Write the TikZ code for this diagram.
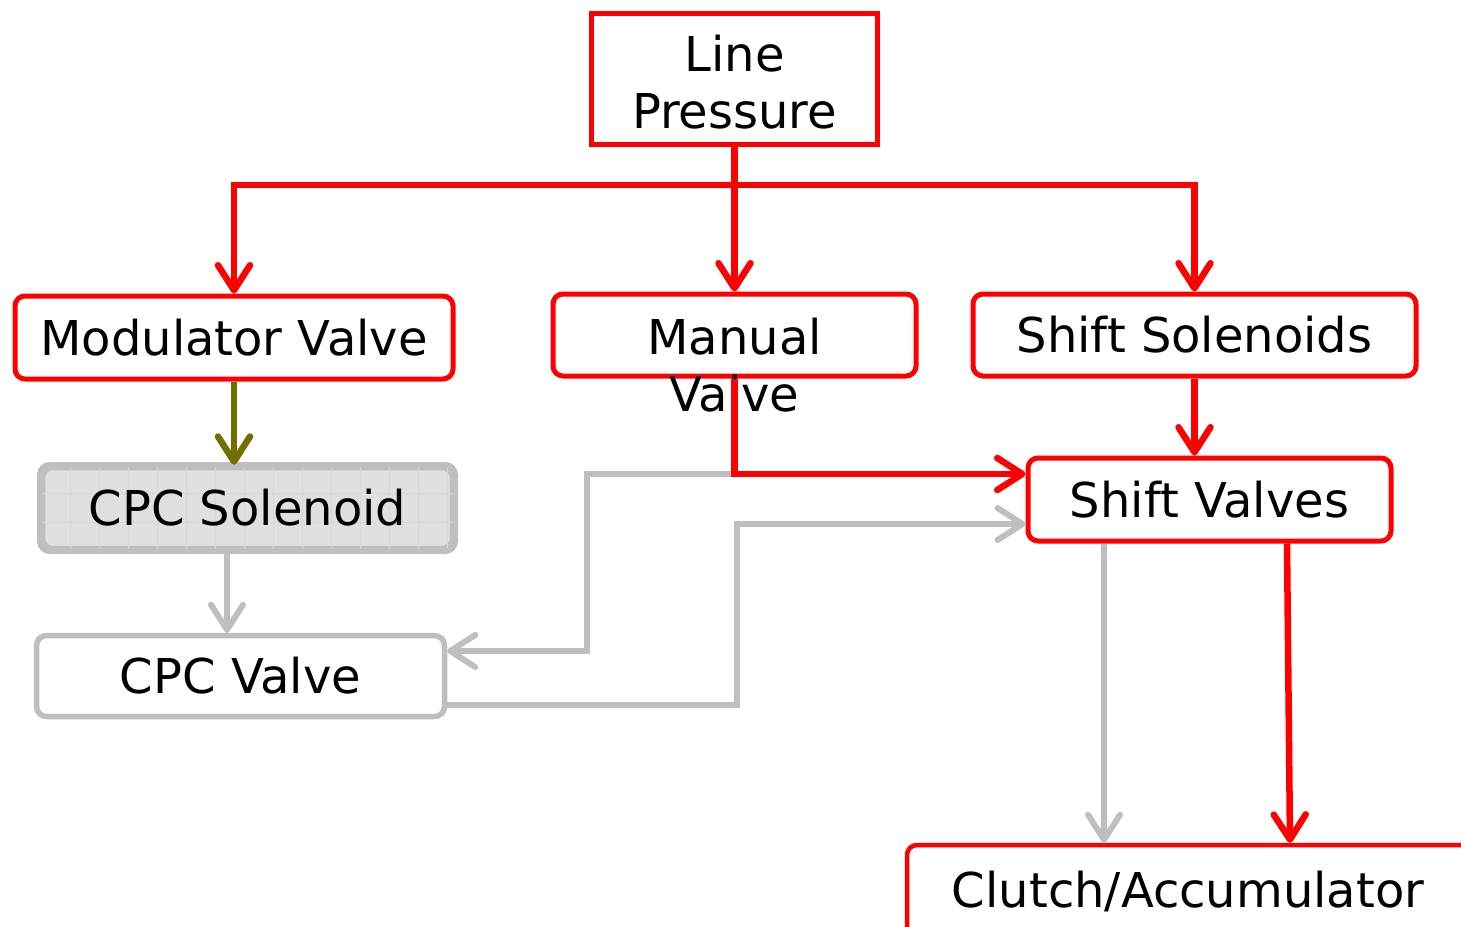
\documentclass[tikz,border=0pt]{standalone}
\usepackage{fontspec}
\setmainfont{DejaVu Sans}
\usetikzlibrary{arrows.meta,calc}
\definecolor{myred}{RGB}{255,0,0}
\definecolor{mygray}{RGB}{191,191,191}
\definecolor{myolive}{RGB}{112,112,0}
\definecolor{solfill}{RGB}{224,224,224}
\definecolor{gridcol}{RGB}{216,216,216}
\tikzset{
  txt/.style={font=\fontsize{48}{57}\selectfont, text=black, inner sep=0pt},
  redbox/.style={draw=myred, line width=5pt, fill=white, rounded corners=10pt, inner sep=0pt},
  graybox/.style={draw=mygray, line width=5.5pt, fill=white, rounded corners=10pt, inner sep=0pt},
  tipr/.style={-{Straight Barb[length=25pt,width=32pt,round]}},
  redline/.style={draw=myred, line width=6.5pt, line join=miter},
  grayline/.style={draw=mygray, line width=6pt, line join=miter},
  oliveline/.style={draw=myolive, line width=6.5pt},
}
\begin{document}
\begin{tikzpicture}[x=1pt,y=-1pt]
\clip (0,0) rectangle (1461,926);
\fill[white] (0,0) rectangle (1461,926);
\useasboundingbox (0,0) rectangle (1461,926);

% boxes
\node[draw=myred, line width=5.5pt, fill=white, minimum width=286pt, minimum height=131pt, inner sep=0pt] (lp) at (734.5,79) {};
\node[txt, align=center] (lptext) at (734.5,82) {Line\\Pressure};

\node[redbox, txt, minimum width=438pt, minimum height=83pt] (mod) at (234,337.5) {Modulator Valve};
\node[redbox, minimum width=363pt, minimum height=82pt] (mv) at (734.5,335) {};
\node[txt, align=center] (mvtext) at (734.5,365) {Manual\\Valve};
\node[redbox, txt, minimum width=443pt, minimum height=82pt] (ss) at (1194.5,335) {Shift Solenoids};

\node[graybox, fill=solfill, minimum width=410pt, minimum height=81pt] (cpcs) at (247.5,508) {};
\begin{scope}
  \clip[rounded corners=10pt] (cpcs.south west) rectangle (cpcs.north east);
  \foreach \gx in {41,70,99,128,157,186,215,244,273,302,331,360,389,418,447}
    \draw[gridcol, line width=0.7pt] (\gx,460) -- (\gx,560);
  \foreach \gy in {464,493,522}
    \draw[gridcol, line width=0.7pt] (30,\gy) -- (460,\gy);
\end{scope}
\draw[mygray, line width=5.5pt, rounded corners=10pt] (cpcs.south west) rectangle (cpcs.north east);
\node[txt] (cpcstext) at (cpcs.center) {CPC Solenoid};

\node[graybox, txt, minimum width=408pt, minimum height=81pt] (cpcv) at (240.5,676) {CPC Valve};
\node[redbox, txt, minimum width=363pt, minimum height=83pt] (sv) at (1209.5,499.5) {Shift Valves};
\node[draw=myred, line width=4.5pt, fill=white, rounded corners=10pt, minimum width=583pt, minimum height=110pt, inner sep=0pt] (ca) at (1198.5,900) {};
\node[txt, anchor=base] (catext) at (1188,907) {Clutch/Accumulator};

% connectors
\coordinate (bus) at (734.5,185);
\coordinate (g1) at (587,474);
\coordinate (g2) at (737,524);

\draw[grayline, tipr] (mv.south) |- (g1) |- ([yshift=25]cpcv.east);
\draw[grayline, tipr] ([yshift=-29]cpcv.east) -| (g2) -- ([yshift=-24.5]sv.west);
\draw[grayline, tipr] ([xshift=-20.5]cpcs.south) -- ([xshift=-20.5]cpcs.south |- cpcv.north);
\draw[grayline, tipr] ([xshift=-105.5]sv.south) -- ([xshift=-105.5]sv.south |- ca.north);

\draw[redline, tipr] (lp.south) -- (mv.north);
\draw[redline, tipr] (bus) -| (mod.north);
\draw[redline, tipr] (bus) -| (ss.north);
\draw[redline, tipr] (mv.south) |- ([yshift=25.5]sv.west);
\draw[redline, tipr] (ss.south) -- (ss.south |- sv.north);
\draw[redline, tipr] ([xshift=77.5]sv.south) -- ([xshift=91.5]ca.north);
\draw[oliveline, tipr] (mod.south) -- (mod.south |- cpcs.north);
\end{tikzpicture}
\end{document}
